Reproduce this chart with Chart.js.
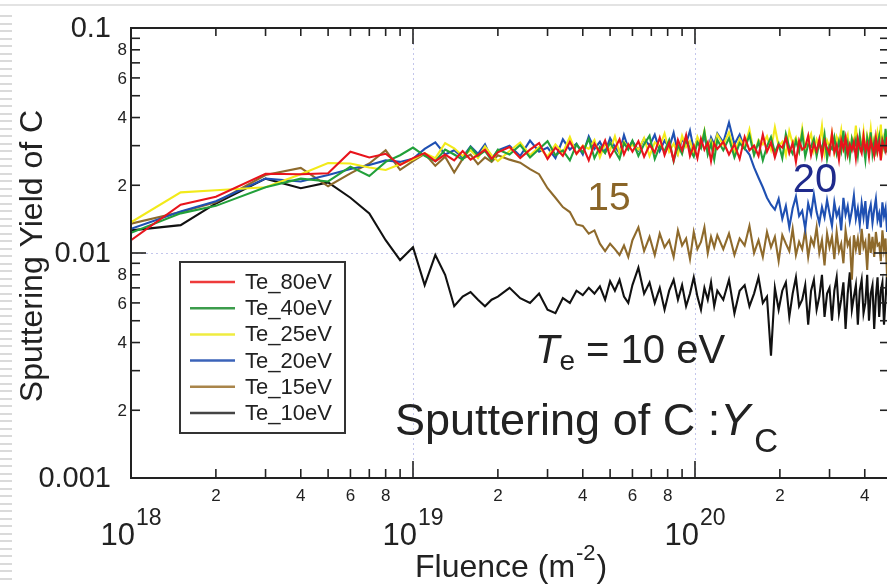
<!DOCTYPE html>
<html>
<head>
<meta charset="utf-8">
<script src="https://cdn.jsdelivr.net/npm/chart.js@4.4.0/dist/chart.umd.min.js"></script>
<style>
  html, body { margin: 0; padding: 0; overflow: hidden; background: #fff; }
  #wrap { width: 887px; height: 585px; overflow: hidden; }
</style>
</head>
<body>
<div id="wrap"><canvas id="yieldChart" width="895" height="585"></canvas></div>
<script>
// fluence, in units of 1e18 m^-2
const fluence = [
  1, 1.5, 2, 3, 4, 5, 6, 7, 8, 9, 10, 11, 12, 13, 14, 15, 16, 17, 18, 19, 20,
  22, 24, 26, 28, 30, 32, 34, 36, 38, 40, 42, 44, 46, 48, 50, 52, 54, 56, 58, 60,
  63, 66, 69, 72, 75, 78, 81, 84, 87, 90, 93, 96, 99, 102, 105, 108, 111, 114, 117, 120,
  126, 132, 138, 144, 150, 156, 162, 168, 174, 180, 186, 192, 198, 204, 210, 216, 222, 228, 234, 240,
  246, 252, 258, 264, 270, 276, 282, 288, 294, 300, 306, 312, 318, 324, 330, 336, 342, 348, 354, 360,
  366, 372, 378, 384, 390, 396, 402, 408, 414, 420, 426, 432, 438, 444, 450, 456, 462, 468, 474, 480,
  486, 492, 498
];

// sputtering yield, in units of 1e-3
const te80 = [
  11.4, 16.4, 17.8, 22.5, 22.4, 22.6, 28.2, 26.6, 27.6, 24.6, 26.4, 27.8, 25.6, 27.4, 25.8, 28.4, 26.0, 27.3, 28.8, 26.2, 28.0,
  29.6, 26.4, 28.8, 30.8, 26.2, 29.4, 27.0, 31.2, 27.6, 29.8, 25.8, 30.6, 28.0, 31.6, 26.8, 29.2, 32.0, 27.4, 30.4, 28.2,
  31.4, 26.8, 30.2, 28.0, 32.6, 27.2, 30.8, 25.8, 31.8, 28.6, 33.4, 27.0, 30.0, 26.4, 32.2, 28.8, 31.0, 25.6, 30.6, 29.0,
  31.2, 27.4, 30.4, 26.2, 32.8, 28.6, 30.0, 27.0, 33.6, 28.2, 31.0, 26.6, 30.2, 29.4, 32.4, 27.8, 30.8, 25.4, 31.6, 28.8,
  29.6, 33.2, 27.2, 30.6, 28.4, 32.0, 26.8, 31.4, 29.2, 27.6, 33.8, 28.0, 30.2, 26.0, 31.8, 29.0, 32.6, 27.4, 30.4, 28.6,
  31.2, 26.4, 32.2, 29.4, 27.8, 33.0, 28.8, 30.6, 26.8, 31.6, 29.6, 27.2, 32.4, 28.2, 30.8, 25.8, 31.4, 29.8, 28.4, 32.8,
  27.6, 30.4, 29.2
];
const te40 = [
  12.3, 15.0, 16.2, 19.6, 21.4, 20.8, 24.2, 22.0, 25.4, 27.2, 29.4, 27.0, 25.6, 28.8, 27.4, 26.0, 29.6, 27.0, 28.4, 25.8, 28.8,
  27.4, 30.2, 26.6, 29.0, 31.4, 27.2, 28.6, 25.8, 30.4, 28.0, 32.2, 26.4, 29.6, 27.8, 31.0, 28.4, 26.2, 30.8, 28.8, 31.6,
  27.0, 30.4, 33.2, 26.2, 29.8, 28.4, 31.8, 25.6, 30.2, 27.6, 32.6, 28.8, 26.8, 31.0, 29.2, 34.6, 27.4, 30.6, 26.0, 31.8,
  28.6, 32.4, 26.6, 30.8, 29.0, 33.4, 27.2, 31.2, 25.8, 29.8, 32.8, 28.0, 30.6, 26.4, 33.8, 29.4, 27.6, 31.6, 28.2, 34.2,
  26.8, 30.4, 29.6, 32.2, 27.0, 31.0, 28.6, 33.6, 26.2, 30.0, 29.0, 32.6, 27.8, 31.4, 28.4, 35.0, 27.4, 30.8, 26.6, 32.0,
  29.2, 31.8, 27.2, 33.2, 28.8, 30.2, 26.0, 32.4, 29.6, 34.4, 27.6, 31.2, 28.2, 30.6, 33.0, 27.0, 31.6, 29.4, 35.6, 28.0,
  32.2, 29.8, 36.0
];
const te25 = [
  13.7, 18.6, 19.0, 19.6, 22.4, 25.1, 25.0, 24.0, 23.4, 24.8, 26.0, 27.8, 26.4, 30.8, 29.2, 27.0, 28.6, 26.4, 29.8, 27.2, 25.6,
  28.4, 31.0, 27.2, 29.6, 26.8, 30.4, 28.0, 32.8, 27.6, 30.0, 29.0, 31.8, 26.6, 30.6, 28.6, 33.0, 27.8, 31.2, 29.4, 30.2,
  28.8, 32.4, 27.0, 31.0, 29.8, 34.0, 28.2, 30.6, 27.4, 33.2, 29.6, 31.4, 27.8, 32.8, 30.0, 35.0, 28.4, 31.6, 29.0, 33.6,
  30.2, 34.4, 28.0, 32.2, 29.4, 35.4, 27.6, 31.8, 30.4, 33.0, 28.8, 36.2, 29.8, 31.2, 27.2, 34.8, 30.6, 32.6, 28.6, 35.8,
  29.2, 31.4, 33.8, 28.4, 32.0, 30.0, 36.6, 27.8, 31.6, 29.6, 34.0, 28.2, 32.8, 30.8, 35.2, 29.0, 31.0, 33.4, 27.4, 32.4,
  30.4, 36.8, 28.6, 31.8, 29.8, 34.6, 28.0, 33.2, 30.2, 35.6, 29.4, 32.2, 28.8, 34.2, 31.2, 37.2, 29.0, 32.6, 30.6, 35.0,
  28.4, 33.6, 31.0
];
const te20 = [
  12.8, 15.3, 17.0, 21.4, 20.8, 22.2, 23.6, 24.6, 25.8, 25.4, 26.2, 29.0, 31.0, 27.4, 28.6, 26.6, 29.8, 27.6, 30.4, 26.2, 28.6,
  30.0, 27.0, 31.6, 28.2, 29.4, 26.4, 32.0, 28.8, 30.6, 27.4, 33.0, 29.0, 31.2, 28.0, 32.4, 29.6, 27.8, 33.4, 29.2, 31.4,
  28.6, 32.2, 30.0, 33.6, 28.4, 31.6, 29.4, 34.2, 27.8, 32.0, 30.6, 35.0, 28.8, 31.8, 29.8, 33.2, 28.2, 32.6, 30.4, 34.0,
  31.0, 38.0, 30.4, 33.6, 29.2, 27.4, 24.0, 21.6, 19.6, 17.6, 16.4, 15.6, 17.4, 14.2, 16.2, 13.0, 15.8, 17.8, 14.6, 15.4,
  12.8, 16.6, 14.8, 18.2, 15.2, 13.6, 16.0, 14.4, 17.2, 15.0, 13.2, 16.8, 14.6, 15.6, 12.6, 17.6, 14.8, 16.2, 13.8, 15.4,
  18.0, 14.2, 15.8, 13.4, 16.6, 14.4, 17.0, 12.8, 15.2, 16.4, 13.6, 15.6, 17.4, 14.0, 15.0, 13.0, 16.8, 14.6, 15.8, 12.4,
  16.0, 14.2, 15.4
];
const te15 = [
  13.5, 15.2, 16.8, 22.2, 23.9, 19.8, 22.6, 25.0, 28.6, 23.4, 25.6, 27.6, 24.4, 26.8, 22.8, 26.2, 27.4, 24.8, 26.6, 25.4, 27.2,
  26.0, 25.2, 23.6, 22.4, 19.4, 17.6, 16.0, 15.2, 13.4, 13.2, 12.2, 12.6, 11.0, 10.2, 11.0, 10.4, 9.8, 10.8, 9.6, 11.4,
  13.0, 10.2, 11.8, 9.8, 12.2, 10.6, 11.4, 9.6, 12.6, 10.8, 11.6, 9.4, 12.4, 10.4, 11.2, 13.0, 10.0, 11.8, 10.6, 12.0,
  10.4, 12.2, 9.8, 11.6, 10.8, 13.2, 10.0, 11.4, 9.6, 12.4, 10.6, 11.8, 9.2, 12.0, 11.0, 10.2, 12.8, 9.8, 11.2, 10.4,
  12.6, 9.6, 11.6, 10.8, 13.0, 10.0, 11.4, 8.8, 12.2, 10.6, 11.8, 9.4, 12.4, 10.2, 11.0, 9.0, 12.6, 10.8, 11.4, 7.6,
  12.0, 10.4, 11.6, 9.8, 12.8, 10.6, 11.2, 8.4, 12.2, 10.0, 11.8, 9.6, 12.4, 10.8, 11.0, 9.2, 12.6, 10.4, 11.6, 7.8,
  12.0, 10.6, 11.4
];
const te10 = [
  12.6, 13.3, 16.6, 21.4, 19.4, 20.6, 17.6, 15.0, 11.4, 9.3, 10.6, 7.2, 9.8, 8.0, 5.8, 6.4, 6.7, 6.2, 5.8, 6.2, 6.4,
  7.0, 6.3, 6.0, 6.6, 5.6, 5.4, 6.3, 6.0, 6.8, 6.5, 7.0, 6.6, 7.1, 6.2, 7.5, 6.8, 7.6, 6.4, 6.0, 7.2,
  8.6, 6.6, 7.4, 6.0, 7.0, 5.6, 6.8, 7.6, 6.2, 7.2, 5.8, 6.6, 7.8, 6.4, 5.6, 7.0, 6.2, 7.4, 5.8, 6.8,
  6.2, 7.6, 5.4, 6.8, 7.2, 5.8, 6.6, 7.8, 6.0, 6.4, 3.5, 7.0, 5.6, 6.8, 7.4, 5.2, 6.6, 7.8, 5.8, 6.2,
  7.2, 4.8, 6.8, 7.6, 5.6, 6.4, 8.0, 5.2, 6.6, 7.0, 5.0, 6.8, 7.8, 5.4, 6.2, 7.4, 4.6, 6.6, 8.2, 5.6,
  6.4, 7.2, 4.8, 6.8, 7.6, 5.4, 6.0, 8.0, 5.0, 6.6, 7.2, 4.6, 6.4, 7.8, 5.2, 6.8, 7.4, 4.8, 6.2, 8.2,
  5.6, 6.6, 7.0
];

const seriesNames = ["Te_80eV", "Te_40eV", "Te_25eV", "Te_20eV", "Te_15eV", "Te_10eV"];
const seriesValues = [te80, te40, te25, te20, te15, te10];
const lineColors = ["#e8141c", "#22a03a", "#f2ea1a", "#1f50b2", "#8e6a2c", "#111111"];
const legendColors = ["#ee3b3b", "#3c9c4c", "#efec40", "#3b63b9", "#a9854b", "#444444"];

// tick labels
const xDecades = [18, 19, 20];
const yDecades = [-3, -2, -1];
const yMajorLabels = ["0.001", "0.01", "0.1"];
const minorLabels = ["2", "4", "6", "8"];
const gridX = [1e19, 1e20];
const gridY = [0.01];

const FONT = '"Liberation Sans", Arial, sans-serif';
const INK = "#222";

function line(ctx, x1, y1, x2, y2) {
    ctx.beginPath();
    ctx.moveTo(x1, y1);
    ctx.lineTo(x2, y2);
    ctx.stroke();
}

const axesPlugin = {
    id: "axesPlugin",
    beforeDraw(chart) {
        const { ctx, width, height } = chart;
        ctx.save();
        ctx.fillStyle = "#fff";
        ctx.fillRect(0, 0, width, height);
        // slide edge decoration
        ctx.fillStyle = "#e3e3e3";
        ctx.fillRect(0, 4, width, 2);
        ctx.fillStyle = "#dadada";
        for (let y = 15; y < height; y += 7.5) ctx.fillRect(0, Math.round(y), 12, 2);
        ctx.restore();
    },
    beforeDatasetsDraw(chart) {
        const { ctx, chartArea: a, scales: { x, y } } = chart;
        ctx.save();
        ctx.strokeStyle = "#c3c6ec";
        ctx.lineWidth = 1;
        ctx.setLineDash([2, 3]);
        gridX.forEach(v => {
            const px = Math.round(x.getPixelForValue(v)) + 0.5;
            line(ctx, px, a.top, px, a.bottom);
        });
        gridY.forEach(v => {
            const py = Math.round(y.getPixelForValue(v)) + 0.5;
            line(ctx, a.left, py, a.right, py);
        });
        ctx.restore();
    },
    afterDatasetsDraw(chart) {
        const { ctx, chartArea: a, scales: { x, y } } = chart;
        ctx.save();
        ctx.strokeStyle = INK;
        ctx.fillStyle = INK;

        // frame
        ctx.lineWidth = 2;
        ctx.strokeRect(a.left, a.top, a.right - a.left, a.bottom - a.top);

        // ticks
        ctx.lineWidth = 1.6;
        xDecades.forEach(d => {
            for (let m = 1; m <= 9; m++) {
                const v = m * Math.pow(10, d);
                if (v < x.min || v > x.max) continue;
                const px = x.getPixelForValue(v);
                const len = m === 1 ? 17 : 9;
                line(ctx, px, a.bottom, px, a.bottom - len);
                line(ctx, px, a.top, px, a.top + (m === 1 ? 16 : 8));
            }
        });
        yDecades.forEach(d => {
            for (let m = 1; m <= 9; m++) {
                const v = m * Math.pow(10, d);
                if (v > y.max * 1.0001) continue;
                const py = y.getPixelForValue(v);
                const len = m === 1 ? 15 : 9;
                line(ctx, a.left, py, a.left + len, py);
                line(ctx, a.right, py, a.right - len, py);
            }
        });

        // y labels
        ctx.textBaseline = "middle";
        ctx.textAlign = "right";
        yDecades.forEach((d, i) => {
            ctx.font = `29px ${FONT}`;
            ctx.fillText(yMajorLabels[i], 111, y.getPixelForValue(Math.pow(10, d)) + 1);
            if (d >= -1) return;
            ctx.font = `17px ${FONT}`;
            minorLabels.forEach(s => {
                ctx.fillText(s, 127, y.getPixelForValue(Number(s) * Math.pow(10, d)) + 1);
            });
        });

        // x labels
        ctx.textAlign = "center";
        xDecades.forEach(d => {
            ctx.font = `17px ${FONT}`;
            ctx.textBaseline = "middle";
            minorLabels.forEach(s => {
                const v = Number(s) * Math.pow(10, d);
                if (v > x.max) return;
                ctx.fillText(s, x.getPixelForValue(v), 496);
            });
            // 10^d
            const cx = x.getPixelForValue(Math.pow(10, d));
            ctx.textBaseline = "alphabetic";
            ctx.textAlign = "left";
            ctx.font = `31px ${FONT}`;
            const w1 = ctx.measureText("10").width;
            ctx.font = `23px ${FONT}`;
            const w2 = ctx.measureText(String(d)).width;
            const x0 = cx - (w1 + w2 + 1) / 2;
            ctx.font = `31px ${FONT}`;
            ctx.fillText("10", x0, 545);
            ctx.font = `23px ${FONT}`;
            ctx.fillText(String(d), x0 + w1 + 1, 525);
            ctx.textAlign = "center";
        });

        // axis titles
        ctx.textAlign = "left";
        ctx.textBaseline = "alphabetic";
        ctx.font = `32px ${FONT}`;
        const t1 = "Fluence (m";
        ctx.fillText(t1, 415, 577);
        let tx = 415 + ctx.measureText(t1).width;
        ctx.font = `22px ${FONT}`;
        ctx.fillText("-2", tx + 1, 560);
        tx += ctx.measureText("-2").width + 2;
        ctx.font = `32px ${FONT}`;
        ctx.fillText(")", tx, 577);

        ctx.save();
        ctx.translate(42, 256);
        ctx.rotate(-Math.PI / 2);
        ctx.textAlign = "center";
        ctx.fillText("Sputtering Yield of C", 0, 0);
        ctx.restore();

        // curve annotations
        ctx.font = `39px ${FONT}`;
        ctx.textAlign = "center";
        ctx.fillStyle = "#8a6528";
        ctx.fillText("15", 609, 210);
        ctx.fillStyle = "#1f2a8c";
        ctx.font = `40px ${FONT}`;
        ctx.fillText("20", 815, 192);

        ctx.fillStyle = INK;
        ctx.textAlign = "left";
        let px = 535;
        ctx.font = `italic 40px ${FONT}`;
        ctx.fillText("T", px, 363);
        px += ctx.measureText("T").width;
        ctx.font = `28px ${FONT}`;
        ctx.fillText("e", px, 370);
        px += ctx.measureText("e").width;
        ctx.font = `40px ${FONT}`;
        ctx.fillText(" = 10 eV", px, 363);

        px = 395;
        ctx.font = `45px ${FONT}`;
        ctx.fillText("Sputtering of C :", px, 435);
        px += ctx.measureText("Sputtering of C :").width;
        ctx.font = `italic 45px ${FONT}`;
        ctx.fillText("Y", px, 435);
        px += ctx.measureText("Y").width;
        ctx.font = `33px ${FONT}`;
        ctx.fillText("C", px + 4, 452);

        // legend
        ctx.fillStyle = "#fff";
        ctx.fillRect(180, 262, 165, 171);
        ctx.strokeStyle = "#333";
        ctx.lineWidth = 2;
        ctx.strokeRect(180, 262, 165, 171);
        ctx.font = `22px ${FONT}`;
        ctx.textBaseline = "middle";
        seriesNames.forEach((name, i) => {
            const ly = 282 + i * 26.2;
            ctx.strokeStyle = legendColors[i];
            ctx.lineWidth = 2.5;
            line(ctx, 190, ly, 235, ly);
            ctx.fillStyle = INK;
            ctx.fillText(name, 245, ly + 1);
        });
        ctx.restore();
    }
};

new Chart(document.getElementById("yieldChart"), {
    type: "line",
    data: {
        datasets: seriesValues.map((vals, i) => ({
            label: seriesNames[i],
            data: fluence.map((f, j) => ({ x: f * 1e18, y: vals[j] * 1e-3 })),
            borderColor: lineColors[i],
            backgroundColor: lineColors[i],
            borderWidth: 2.1,
            pointRadius: 0,
            tension: 0,
            fill: false
        }))
    },
    options: {
        responsive: false,
        animation: false,
        devicePixelRatio: 1,
        layout: { padding: { left: 131, top: 28, right: 6, bottom: 107 } },
        scales: {
            x: { type: "logarithmic", min: 1e18, max: Math.pow(10, 20.688), display: false },
            y: { type: "logarithmic", min: 1e-3, max: 0.1, display: false }
        },
        plugins: {
            legend: { display: false },
            tooltip: { enabled: false }
        }
    },
    plugins: [axesPlugin]
});
</script>
</body>
</html>
